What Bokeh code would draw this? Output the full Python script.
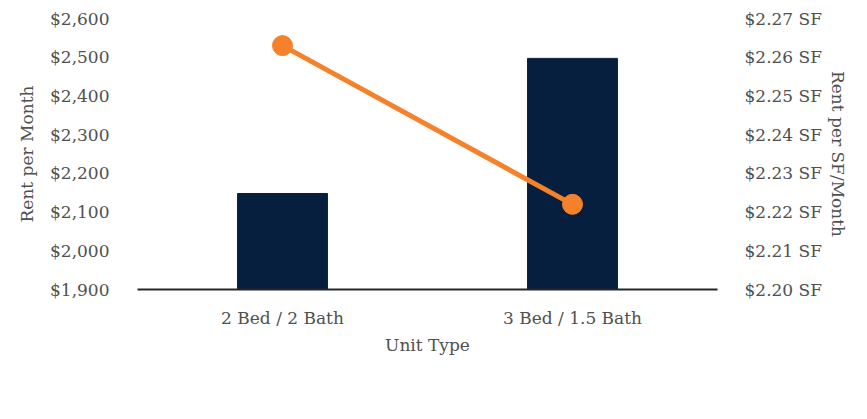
from bokeh.plotting import figure
from bokeh.models import (Range1d, LinearAxis, FixedTicker, NumeralTickFormatter,
                          PrintfTickFormatter, Legend, LegendItem, FactorRange)
from bokeh.embed import file_html
from bokeh.resources import INLINE

# Unit mix data
unit_types = ["2 Bed / 2 Bath", "3 Bed / 1.5 Bath"]
rent = [2148, 2497]
rent_sf = [2.263, 2.222]

rent_ticks = [1900, 2000, 2100, 2200, 2300, 2400, 2500, 2600]
sf_ticks = [2.20, 2.21, 2.22, 2.23, 2.24, 2.25, 2.26, 2.27]

FONT = "DejaVu Serif"
TEXT = "#505050"
NAVY = "#061f3f"
ORANGE = "#f5822a"

p = figure(x_range=FactorRange(*unit_types, range_padding=0),
           y_range=Range1d(1900, 2600),
           width=867, height=419, frame_width=580, frame_height=271,
           output_backend="svg", toolbar_location=None,
           min_border_left=137, min_border_right=150, min_border_top=18,
           min_border_bottom=88)
p.outline_line_color = None
p.xgrid.grid_line_color = None
p.ygrid.grid_line_color = None
p.x_range.factor_padding = 0

p.extra_y_ranges = {"sf": Range1d(2.20, 2.27)}

bars = p.vbar(x=unit_types, top=rent, bottom=1900, width=0.31,
              fill_color=NAVY, line_color=NAVY)
line = p.line(x=unit_types, y=rent_sf, y_range_name="sf",
              line_color=ORANGE, line_width=5)
dots = p.scatter(x=unit_types, y=rent_sf, y_range_name="sf", size=20,
                 fill_color=ORANGE, line_color=ORANGE)
# smaller marker used only for the legend key
key_dot = p.scatter(x=[], y=[], y_range_name="sf", size=13,
                    fill_color=ORANGE, line_color=ORANGE)

def style_axis(ax):
    ax.major_label_text_font = FONT
    ax.major_label_text_font_size = "17px"
    ax.major_label_text_color = TEXT
    ax.axis_label_text_font = FONT
    ax.axis_label_text_font_size = "17px"
    ax.axis_label_text_color = TEXT
    ax.axis_label_text_font_style = "normal"
    ax.major_tick_line_color = None
    ax.minor_tick_line_color = None

# left axis: monthly rent
yl = p.yaxis[0]
yl.ticker = FixedTicker(ticks=rent_ticks)
yl.formatter = NumeralTickFormatter(format="$0,0")
yl.axis_label = "Rent per Month"
yl.axis_line_color = None
yl.major_label_standoff = 22
yl.axis_label_standoff = 10
style_axis(yl)

# right axis: rent per square foot
yr = LinearAxis(y_range_name="sf", ticker=FixedTicker(ticks=sf_ticks),
                formatter=PrintfTickFormatter(format="$%.2f SF"),
                axis_label="Rent per SF/Month")
yr.axis_line_color = None
yr.major_label_standoff = 21
yr.axis_label_standoff = 3
style_axis(yr)
p.add_layout(yr, "right")

# bottom axis: unit types
xb = p.xaxis[0]
xb.axis_label = "Unit Type"
xb.axis_line_color = "#262626"
xb.axis_line_width = 2
xb.major_label_standoff = 12
xb.axis_label_standoff = 4
style_axis(xb)

# legend below the axis; a blank title with a standoff opens the gap above the keys
legend = Legend(items=[LegendItem(label="Rent", renderers=[bars]),
                       LegendItem(label="Rent SF", renderers=[line, key_dot])],
                orientation="horizontal", location="top_center",
                title=" ", title_text_font_size="1px", title_standoff=20,
                glyph_width=52, glyph_height=18, spacing=2, padding=0,
                margin=0, label_standoff=4, border_line_color=None,
                background_fill_alpha=0,
                label_text_font=FONT, label_text_font_size="17px",
                label_text_color=TEXT)
p.add_layout(legend, "below")

open("out.html", "w").write(file_html(p, INLINE))
